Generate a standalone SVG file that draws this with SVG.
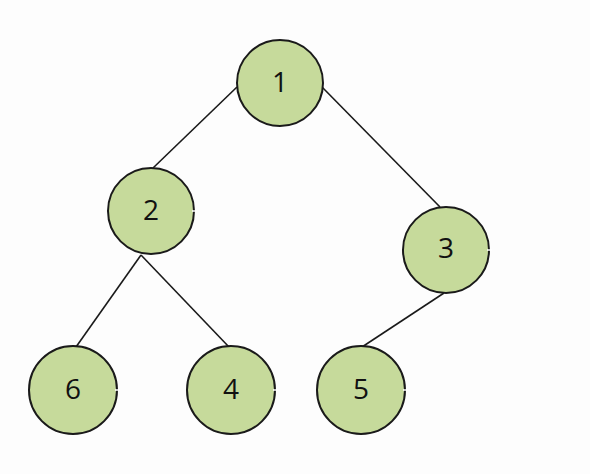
<svg xmlns="http://www.w3.org/2000/svg" width="590" height="474" viewBox="0 0 590 474">
<style>
.node circle{fill:#c6da9b;stroke:#1a1a1a;stroke-width:2}
.node text{font-family:"Open Sans","Liberation Sans",sans-serif;font-size:28px;fill:#111111;text-anchor:middle;dominant-baseline:central}
.edges line{stroke:#1a1a1a;stroke-width:1.6}
.tick{stroke:#ffffff;stroke-width:1.5}
</style>
<rect width="590" height="474" fill="#fdfdfd"/>
<g class="edges" id="connectors">
<line x1="237" y1="87" x2="153" y2="168"/>
<line x1="322" y1="87" x2="440" y2="207"/>
<line x1="141" y1="255" x2="76" y2="347"/>
<line x1="141" y1="255" x2="229" y2="347"/>
<line x1="444" y1="293" x2="362" y2="347"/>
</g>
<g class="node" id="node1"><circle cx="280" cy="83" r="43"/><text x="280" y="81">1</text></g>
<g class="node" id="node2"><circle cx="151" cy="211" r="43"/><text x="151" y="209">2</text></g>
<g class="node" id="node3"><circle cx="446" cy="250" r="43"/><text x="446" y="247">3</text></g>
<g class="node" id="node6"><circle cx="73" cy="390" r="44"/><text x="73" y="388">6</text></g>
<g class="node" id="node4"><circle cx="231" cy="390" r="44"/><text x="231" y="388">4</text></g>
<g class="node" id="node5"><circle cx="361" cy="390" r="44"/><text x="361" y="388">5</text></g>
<g id="ticks">
<line class="tick" x1="192" y1="211" x2="197" y2="211"/>
<line class="tick" x1="487" y1="250" x2="492" y2="250"/>
<line class="tick" x1="115" y1="390" x2="120" y2="390"/>
<line class="tick" x1="273" y1="390" x2="278" y2="390"/>
<line class="tick" x1="403" y1="390" x2="408" y2="390"/>
</g>
</svg>
